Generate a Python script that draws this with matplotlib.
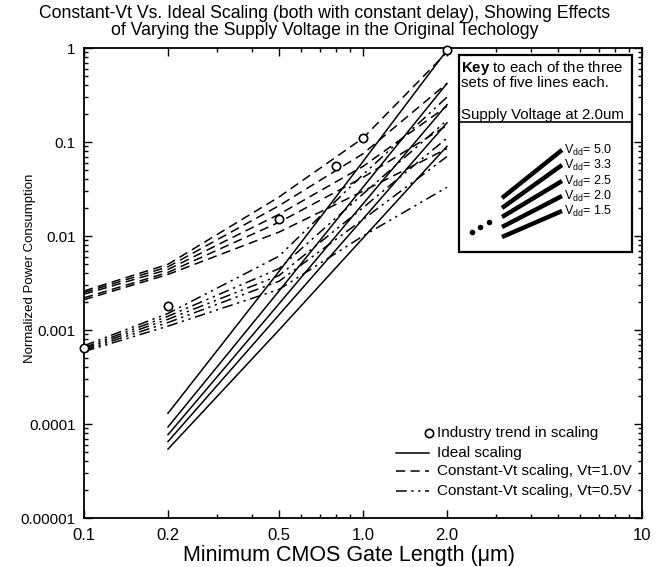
import matplotlib
matplotlib.use('Agg')
import matplotlib.pyplot as plt
from matplotlib.lines import Line2D
from matplotlib.patches import Rectangle
from matplotlib.ticker import FixedLocator, FixedFormatter, LogLocator, NullFormatter

# 字体：原图为 Helvetica，这里用 Liberation Sans 代替
plt.rcParams['font.family'] = ['Liberation Sans', 'DejaVu Sans']
plt.rcParams['mathtext.fontset'] = 'custom'
plt.rcParams['mathtext.rm'] = 'Liberation Sans'
plt.rcParams['mathtext.bf'] = 'Liberation Sans:bold'

# ---- 数据 ----
vdd_labels = ['5.0', '3.3', '2.5', '2.0', '1.5']

industry_x = [0.1, 0.2, 0.5, 0.8, 1.0, 2.0]
industry_y = [0.00065, 0.0018, 0.015, 0.055, 0.11, 0.95]

ideal_x = [0.2, 0.5, 1.0, 2.0]
ideal_y = [
    [1.3e-4, 0.0042, 0.062, 0.95],
    [9.3e-5, 0.0026, 0.033, 0.42],
    [7.7e-5, 0.0019, 0.022, 0.25],
    [6.5e-5, 0.00145, 0.0152, 0.16],
    [5.4e-5, 0.0010, 0.0095, 0.09],
]

cvt_x = [0.1, 0.2, 0.5, 1.0, 2.0]
vt10_y = [
    [0.0026, 0.0050, 0.026, 0.11, 0.90],
    [0.0025, 0.0047, 0.021, 0.075, 0.42],
    [0.0024, 0.0044, 0.017, 0.055, 0.24],
    [0.0022, 0.0041, 0.014, 0.042, 0.15],
    [0.0021, 0.0039, 0.011, 0.030, 0.085],
]
vt05_y = [
    [0.00068, 0.0015, 0.0061, 0.045, 0.30],
    [0.00065, 0.0014, 0.0045, 0.028, 0.17],
    [0.00063, 0.0013, 0.0038, 0.020, 0.11],
    [0.00061, 0.0012, 0.0033, 0.015, 0.070],
    [0.00059, 0.0011, 0.0027, 0.010, 0.033],
]

x_ticks = [0.1, 0.2, 0.5, 1.0, 2.0, 10]
x_ticklabels = ['0.1', '0.2', '0.5', '1.0', '2.0', '10']
y_ticks = [1e-5, 1e-4, 1e-3, 1e-2, 1e-1, 1]
y_ticklabels = ['0.00001', '0.0001', '0.001', '0.01', '0.1', '1']

# ---- 画布（像素坐标换算） ----
W, H = 657, 567
fig = plt.figure(figsize=(W / 100, H / 100), dpi=100)
fx = lambda px: px / W
fy = lambda py: 1 - py / H
ax = fig.add_axes([fx(84), fy(518), fx(642) - fx(84), (518 - 48) / H])

DASH = (0, (6, 3.5))
DASHDOT = (0, (7, 3, 1.5, 3, 1.5, 3))
lw = 1.1

for ys in ideal_y:
    ax.plot(ideal_x, ys, color='black', lw=lw, ls='-')
for ys in vt10_y:
    ax.plot(cvt_x, ys, color='black', lw=lw, ls=DASH)
for ys in vt05_y:
    ax.plot(cvt_x, ys, color='black', lw=lw, ls=DASHDOT)
ax.plot(industry_x, industry_y, ls='none', marker='o', ms=6, mfc='white',
        mec='black', mew=1.2, zorder=5, clip_on=False)

ax.set_xscale('log')
ax.set_yscale('log')
ax.set_xlim(0.1, 10)
ax.set_ylim(1e-5, 1)
ax.xaxis.set_major_locator(FixedLocator(x_ticks))
ax.xaxis.set_major_formatter(FixedFormatter(x_ticklabels))
ax.xaxis.set_minor_locator(LogLocator(base=10, subs=range(1, 10)))
ax.xaxis.set_minor_formatter(NullFormatter())
ax.yaxis.set_major_locator(FixedLocator(y_ticks))
ax.yaxis.set_major_formatter(FixedFormatter(y_ticklabels))
ax.yaxis.set_minor_locator(LogLocator(base=10, subs=range(1, 10)))
ax.yaxis.set_minor_formatter(NullFormatter())
ax.tick_params(which='both', direction='in', top=True, right=True, width=1)
ax.tick_params(which='major', length=6, labelsize=12, pad=7)
ax.tick_params(axis='y', which='major', labelsize=11, pad=6)
ax.tick_params(which='minor', length=3)
for s in ax.spines.values():
    s.set_linewidth(1.3)

fig.text(fx(349), fy(555), 'Minimum CMOS Gate Length (\u03bcm)', fontsize=15.5,
         ha='center', va='center')
fig.text(fx(30), fy(268), 'Normalized Power Consumption', rotation=90,
         ha='center', va='center', fontsize=9.5)

fig.text(fx(325), fy(22),
         'Constant-Vt Vs. Ideal Scaling (both with constant delay), Showing Effects\n'
         'of Varying the Supply Voltage in the Original Techology',
         ha='center', va='center', fontsize=12.7, linespacing=1.0)

# ---- 图例（手动排版） ----
rows = [433, 453, 471, 491]
fig.add_artist(Line2D([fx(429)], [fy(rows[0])], marker='o', ms=6, mfc='white',
                      mec='black', mew=1.2))
for r, style in zip(rows[1:], ['-', DASH, DASHDOT]):
    fig.add_artist(Line2D([fx(396), fx(429)], [fy(r), fy(r)], color='black',
                          lw=lw, ls=style))
legend_texts = ['Industry trend in scaling', 'Ideal scaling',
                'Constant-Vt scaling, Vt=1.0V', 'Constant-Vt scaling, Vt=0.5V']
for r, txt in zip(rows, legend_texts):
    fig.text(fx(437), fy(r), txt, ha='left', va='center', fontsize=11)

# ---- Key 方框 ----
fig.add_artist(Rectangle((fx(459), fy(252)), fx(632) - fx(459), (252 - 55) / H,
                         transform=fig.transFigure, facecolor='white',
                         edgecolor='black', lw=1.6, zorder=6))
fig.text(fx(461), fy(68), r'$\bf{Key}$ to each of the three', fontsize=10.8,
         ha='left', va='center', zorder=7)
fig.text(fx(461), fy(83), 'sets of five lines each.', fontsize=10.8,
         ha='left', va='center', zorder=7)
fig.text(fx(461), fy(115), 'Supply Voltage at 2.0um', fontsize=10.8,
         ha='left', va='center', zorder=7)
fig.add_artist(Line2D([fx(459), fx(632)], [fy(122), fy(122)], color='black',
                      lw=1.2, zorder=7))
key_start = [198, 208, 217, 227, 237]
key_end = [150, 165, 181, 196, 211]
for y0, y1, lab in zip(key_start, key_end, vdd_labels):
    fig.add_artist(Line2D([fx(502), fx(562)], [fy(y0), fy(y1)], color='black',
                          lw=3.2, solid_capstyle='butt', zorder=7))
    fig.text(fx(564), fy(y1), r'V$_{\rm dd}$= ' + lab, fontsize=9,
             ha='left', va='center', zorder=7)
fig.add_artist(Line2D([fx(472), fx(480), fx(489)], [fy(232), fy(227), fy(222)],
                      ls='none', marker='o', ms=3, color='black', zorder=7))

fig.savefig('out.png', dpi=100)
